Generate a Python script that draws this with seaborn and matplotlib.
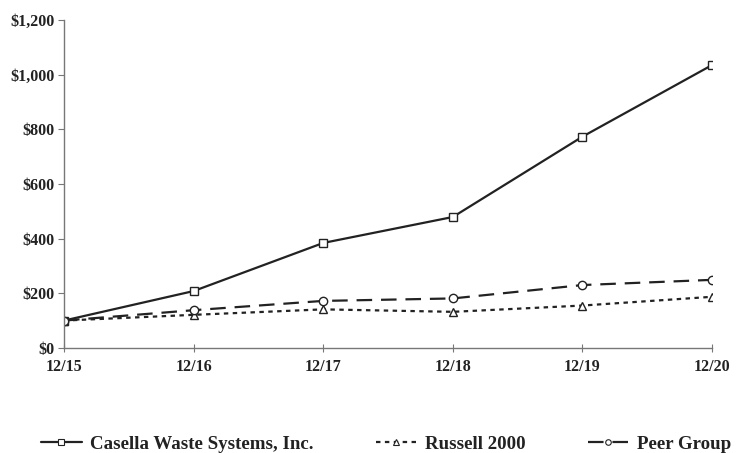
import matplotlib
matplotlib.use("Agg")
import matplotlib.pyplot as plt
from matplotlib.lines import Line2D
import seaborn as sns
import pandas as pd

# data
periods = ["12/15", "12/16", "12/17", "12/18", "12/19", "12/20"]
casella = [100, 208, 384, 479, 773, 1035]
russell = [100, 121, 141, 132, 155, 187]
peer = [100, 138, 172, 181, 230, 249]

sns.set_style("white")
plt.rcParams['font.family'] = ['Liberation Serif', 'DejaVu Serif']
plt.rcParams['font.weight'] = 'bold'

df = pd.DataFrame({"x": range(len(periods)), "Casella": casella,
                   "Russell": russell, "Peer": peer})

fig = plt.figure(figsize=(7.39, 4.53), dpi=100)
ax = fig.add_axes([0.0866, 0.232, 0.877, 0.724])

line_col = "#222222"
series = [
    ("Casella", "Casella Waste Systems, Inc.", "-", "s"),
    ("Russell", "Russell 2000", (0, (2, 2)), "^"),
    ("Peer", "Peer Group", (0, (7, 4)), "o"),
]
handles = []
for col, label, ls, mk in series:
    sns.lineplot(data=df, x="x", y=col, ax=ax, color=line_col, linestyle=ls,
                 linewidth=1.6, marker=mk, markersize=6, markerfacecolor="white",
                 markeredgecolor=line_col, markeredgewidth=1.0, legend=False)
    handles.append(Line2D([], [], color=line_col, linestyle=ls, linewidth=1.6,
                          marker=mk, markersize=4, markerfacecolor="white",
                          markeredgecolor=line_col, markeredgewidth=0.8,
                          label=label))

ax.set_xlim(0, len(periods) - 1)
ax.set_ylim(0, 1200)
ax.set_xticks(range(len(periods)))
ax.set_xticklabels(periods)
ax.set_yticks(range(0, 1201, 200))
ax.set_yticklabels([f"${v:,}" for v in range(0, 1201, 200)])
ax.set_xlabel("")
ax.set_ylabel("")

for side in ["top", "right"]:
    ax.spines[side].set_visible(False)
for side in ["left", "bottom"]:
    ax.spines[side].set_color("#777777")
    ax.spines[side].set_linewidth(1.0)
ax.tick_params(axis="y", direction="out", length=4, color="#777777",
               labelsize=11.5, pad=3, left=True)
ax.tick_params(axis="x", direction="inout", length=6, color="#777777",
               labelsize=11.5, pad=5, bottom=True)
for t in ax.get_xticklabels() + ax.get_yticklabels():
    t.set_fontweight("bold")
    t.set_color("#222222")

leg = fig.legend(handles=handles, loc="center", bbox_to_anchor=(0.522, 0.02),
                 ncol=3, frameon=False, handlelength=2.2, handletextpad=0.4,
                 columnspacing=3.3, prop={"weight": "bold", "size": 13.6})
for t in leg.get_texts():
    t.set_color("#222222")

fig.savefig("out.png", dpi=100)
